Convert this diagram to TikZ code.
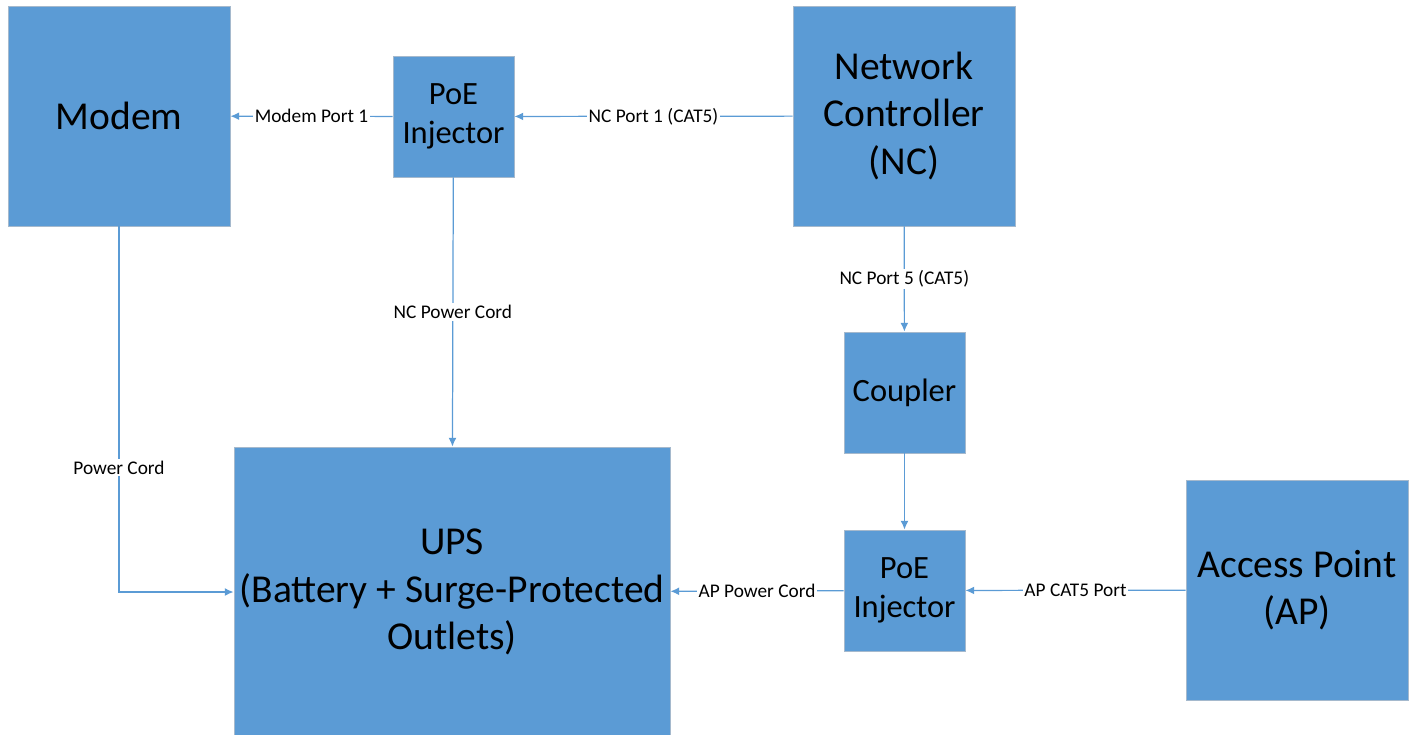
\documentclass[tikz,border=0pt]{standalone}
\usepackage{fontspec}
\setmainfont{Carlito}
\usepackage{xcolor}
\definecolor{boxblue}{RGB}{91,155,213}
\definecolor{boxedge}{RGB}{165,185,205}
\usetikzlibrary{arrows.meta,positioning}

\begin{document}
\begin{tikzpicture}[x=0.02cm, y=-0.02cm,
  block/.style={draw=boxedge, fill=boxblue, line width=0.5pt, align=center, inner sep=0pt, font=\fontsize{22.5}{27}\selectfont},
  smallblock/.style={block, minimum width=121*0.02cm, minimum height=121*0.02cm, font=\fontsize{18.5}{22}\selectfont},
  link/.style={-{Latex[length=5pt,width=4.5pt]}, draw=boxblue, line width=0.7pt},
  lbl/.style={fill=white, inner sep=1pt, font=\fontsize{11}{13}\selectfont}]
\useasboundingbox (0,0) rectangle (1413,734);
% Boxes
\node[block, minimum width=222*0.02cm, minimum height=220*0.02cm] (modem) at (119,116) {Modem};
\node[smallblock] (poe1) at (453.5,116.5) {PoE\\Injector};
\node[block, minimum width=222*0.02cm, minimum height=220*0.02cm] (nc) at (904,116) {Network\\Controller\\(NC)};
\node[smallblock] (coupler) at (904.5,392.5) {Coupler};
\node[smallblock] (poe2) at (904.5,590.5) {PoE\\Injector};
\node[block, minimum width=222*0.02cm, minimum height=220*0.02cm] (ap) at (1297,590) {Access Point\\(AP)};
\node[block, minimum width=436*0.02cm, minimum height=290*0.02cm] (ups) at (452,592) {UPS\\(Battery + Surge-Protected\\Outlets)};
% Connectors
\foreach \a/\b/\t in {poe1/modem/Modem Port 1, nc/poe1/NC Port 1 (CAT5), poe1/ups/NC Power Cord,
  nc/coupler/NC Port 5 (CAT5), poe2/ups/AP Power Cord, ap/poe2/AP CAT5 Port} {
  \draw[link] (\a) -- node[lbl] {\t} (\b);
}
\draw[link] (coupler) -- (poe2);
\draw[link] (modem.south) |- node[lbl, pos=0.33] {Power Cord} (ups.west);
\end{tikzpicture}
\end{document}
